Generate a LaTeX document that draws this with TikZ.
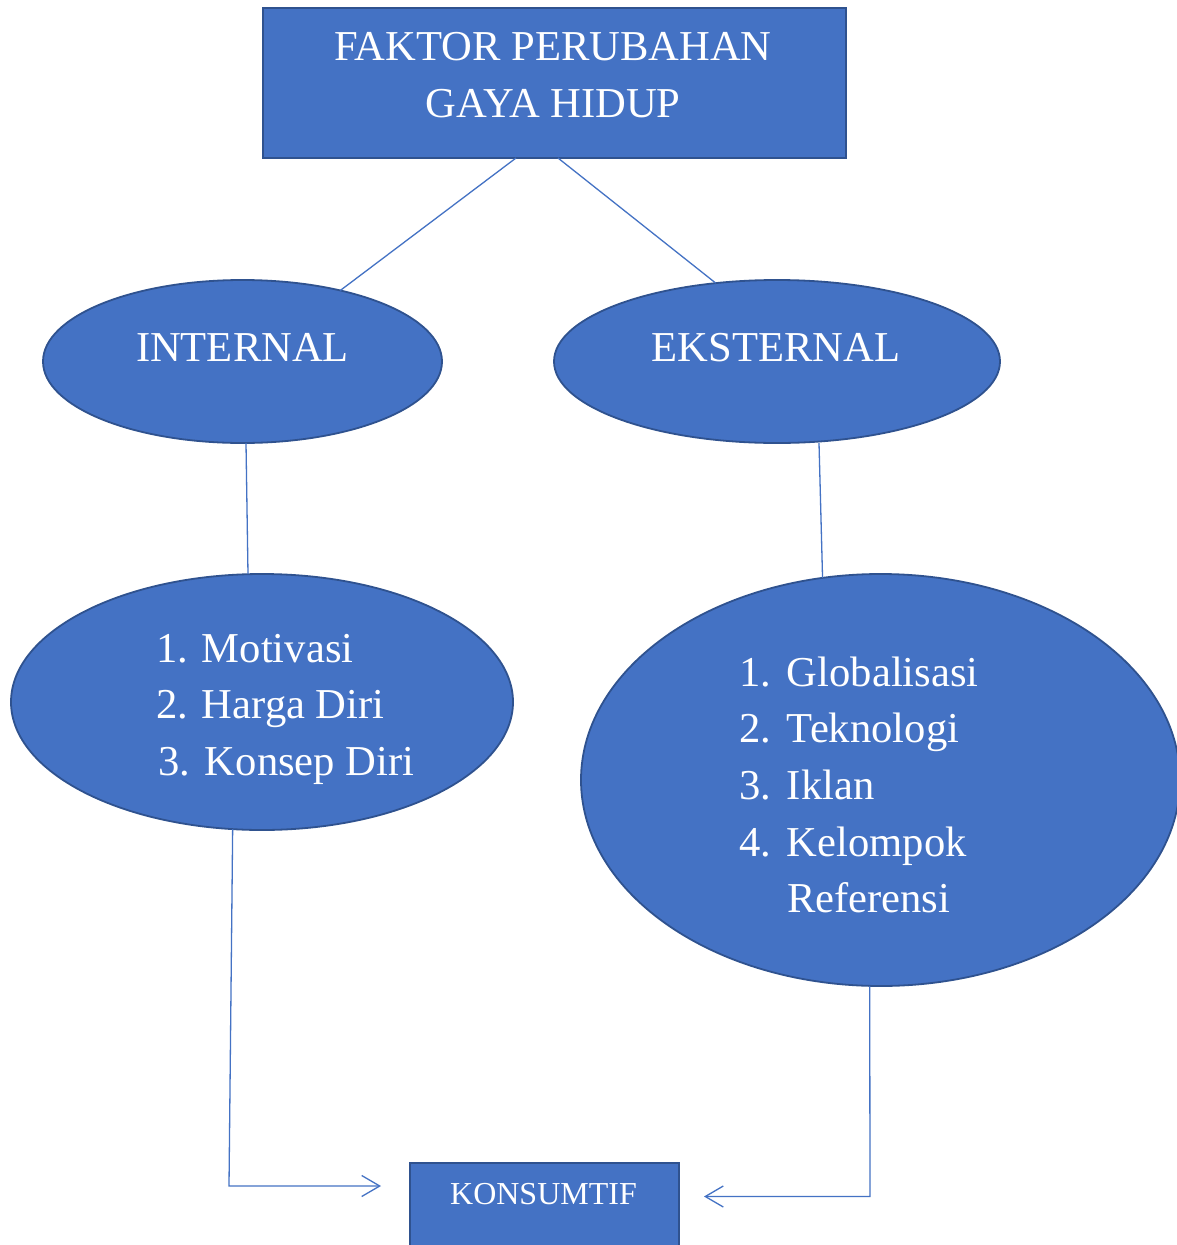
\documentclass[tikz,border=0pt]{standalone}
\usepackage{fontspec}
\setmainfont{Liberation Serif}
\usetikzlibrary{arrows.meta,calc,shapes.geometric}
\definecolor{boxfill}{HTML}{4472C4}
\definecolor{boxline}{HTML}{2F528F}
\definecolor{conn}{HTML}{4472C4}
\begin{document}
\begin{tikzpicture}[x=1pt,y=-1pt,
  shapebox/.style={draw=boxline,fill=boxfill,line width=2.5pt,rectangle,inner sep=0pt,outer sep=0pt},
  oval/.style={draw=boxline,fill=boxfill,line width=1.8pt,ellipse,inner sep=0pt,outer sep=0pt},
  txt/.style={text=white,inner sep=0pt,outer sep=0pt,font=\fontsize{42.6}{56.7}\selectfont},
  smalltxt/.style={text=white,inner sep=0pt,outer sep=0pt,font=\fontsize{32}{40}\selectfont},
  link/.style={draw=conn,line width=1.3pt},
  arrowlink/.style={link,-{Straight Barb[length=18pt,width=21pt,line width=1.3pt]}}
]
\path[use as bounding box,fill=white] (0,0) rectangle (1177,1245);

% shapes
\node[shapebox,minimum width=583pt,minimum height=150pt] (top) at (554.5,83) {};
\node[oval,minimum width=399pt,minimum height=163pt] (int) at (242.5,361.5) {};
\node[oval,minimum width=446pt,minimum height=163pt] (ext) at (777,361.5) {};
\node[oval,minimum width=502pt,minimum height=256pt] (intlist) at (262,702) {};
\node[oval,minimum width=599pt,minimum height=412pt] (extlist) at (880.5,780) {};
\node[shapebox,line width=2pt,minimum width=269pt,minimum height=100pt] (kons) at (544.5,1213) {};

% texts
\node[txt,anchor=base] (topA) at (553,60) {FAKTOR PERUBAHAN};
\node[txt,anchor=base] (topB) at (553,117) {GAYA HIDUP};
\node[txt,anchor=base] (intT) at (242.5,361) {INTERNAL};
\node[txt,anchor=base] (extT) at (776,361) {EKSTERNAL};
\node[txt,anchor=base west] (intL) at (156,662)
  {\begin{tabular}[t]{@{}l@{}}\makebox[46pt][l]{1.}Motivasi\\\makebox[46pt][l]{2.}Harga Diri\\\hspace*{2pt}\makebox[47pt][l]{3.}Konsep Diri\end{tabular}};
\node[txt,anchor=base west] (extL) at (739,686)
  {\begin{tabular}[t]{@{}l@{}}\makebox[48pt][l]{1.}Globalisasi\\\makebox[48pt][l]{2.}Teknologi\\\makebox[48pt][l]{3.}Iklan\\\makebox[48pt][l]{4.}Kelompok\\\makebox[48pt][l]{}Referensi\end{tabular}};
\node[smalltxt,anchor=base] (konsT) at (543.5,1204) {KONSUMTIF};

% connector helper coordinates
\coordinate (bendL) at (229,1186);
\coordinate (tipL) at (381,1186);
\coordinate (bendR) at (870,1196.5);
\coordinate (tipR) at (704,1196.5);

% connectors
\draw[link] ([xshift=-38.5pt]top.south) -- (int.36);
\draw[link] ([xshift=3.5pt]top.south) -- (ext.128.75);
\draw[link] ([xshift=3.5pt]int.south) -- ([xshift=-14pt]intlist.north);
\draw[link] ([xshift=42pt]ext.south) -- (extlist.106.15);
\draw[arrowlink] (intlist.257.2) -- (bendL) -- (tipL);
\draw[arrowlink] (extlist.267.1) -- (bendR) -- (tipR);
\end{tikzpicture}
\end{document}
